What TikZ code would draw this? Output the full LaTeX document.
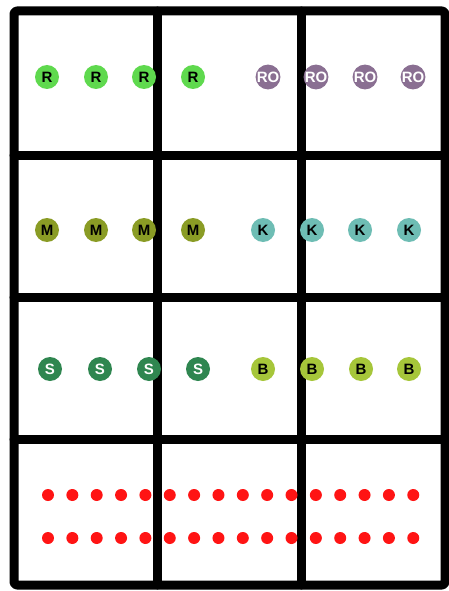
\documentclass[tikz,border=0pt]{standalone}
\usepackage{fontspec}
\setmainfont{Liberation Sans}
\definecolor{cR}{HTML}{5FD94E}
\definecolor{cRO}{HTML}{8A6F92}
\definecolor{cM}{HTML}{8A9C25}
\definecolor{cK}{HTML}{6EBDB4}
\definecolor{cS}{HTML}{2F8650}
\definecolor{cB}{HTML}{A6C63A}
\definecolor{cDot}{HTML}{FF1414}
\begin{document}
\begin{tikzpicture}[x=1pt,y=-1pt,
  frame/.style={line width=9pt,line cap=round,line join=round},
  stop/.style={circle,minimum size=24pt,inner sep=0pt,font=\fontsize{15}{15}\selectfont\bfseries},
  reddot/.style={circle,fill=cDot,minimum size=12pt,inner sep=0pt}]
\useasboundingbox (0,0) rectangle (449,591);
\fill[white] (0,0) rectangle (449,591);
% grid
\draw[frame,rounded corners=3pt] (14,11) rectangle (445,585);
\foreach \yy in {155,297,439} \draw[frame] (14,\yy) -- (445,\yy);
\foreach \xx in {157.5,301} \draw[frame] (\xx,11) -- (\xx,585);
% row 1
\foreach \xx [count=\i] in {47,96,144,193}
  \node[stop,fill=cR,text=black] (r\i) at (\xx,77) {R};
\foreach \xx [count=\i] in {268,316,365,413}
  \node[stop,fill=cRO,text=white] (ro\i) at (\xx,77) {RO};
% row 2
\foreach \xx [count=\i] in {47,96,144,193}
  \node[stop,fill=cM,text=black] (m\i) at (\xx,230) {M};
\foreach \xx [count=\i] in {263,312,360,409}
  \node[stop,fill=cK,text=black] (k\i) at (\xx,230) {K};
% row 3
\foreach \xx [count=\i] in {50,100,149,198}
  \node[stop,fill=cS,text=white] (s\i) at (\xx,369) {S};
\foreach \xx [count=\i] in {263,312,361,409}
  \node[stop,fill=cB,text=black] (b\i) at (\xx,369) {B};
% red dots
\foreach \i in {0,...,15} {
  \node[reddot] (da\i) at (48+24.35*\i,495) {};
  \node[reddot] (db\i) at (48+24.35*\i,538) {};
}
\end{tikzpicture}
\end{document}
